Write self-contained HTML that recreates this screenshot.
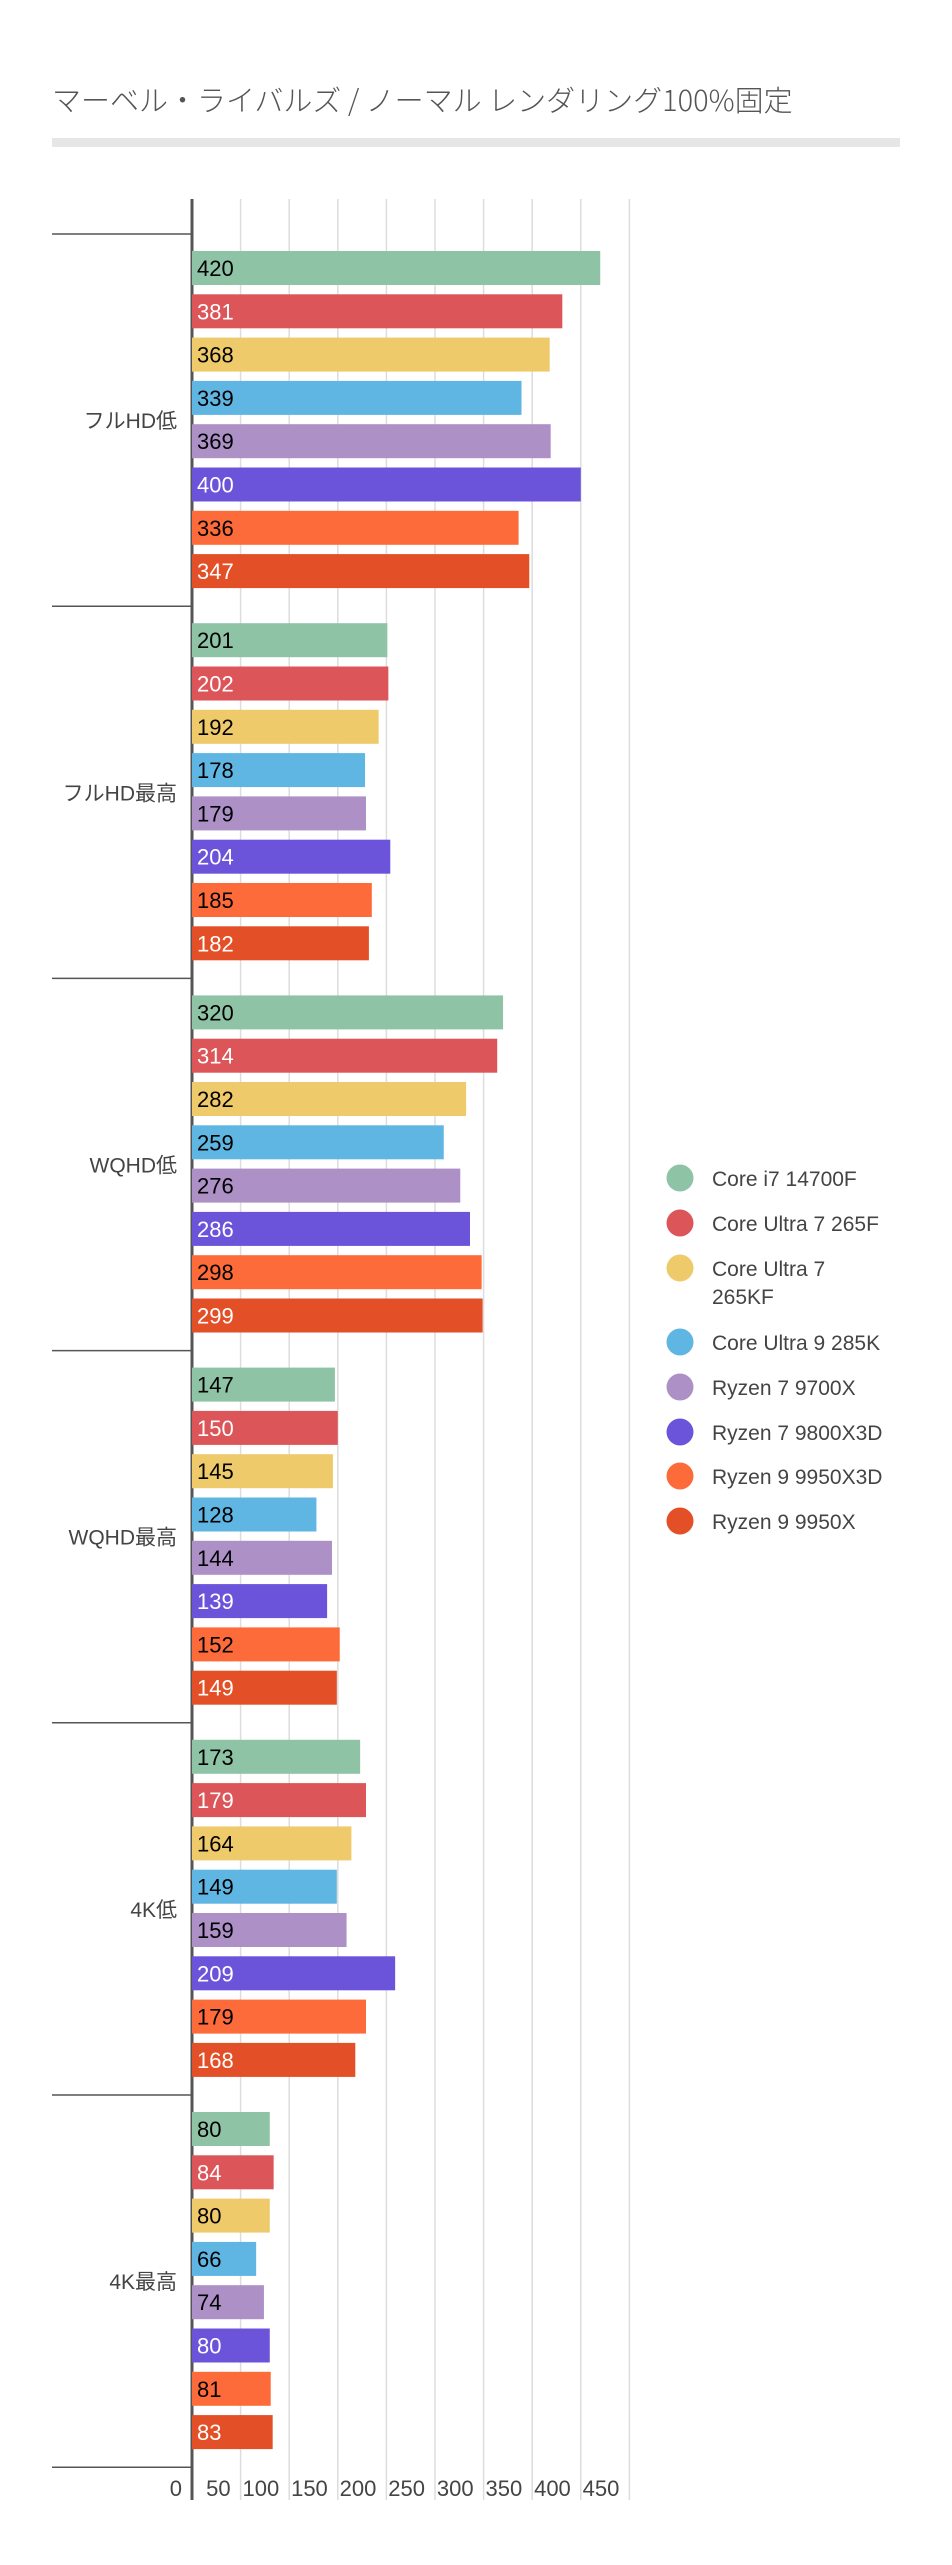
<!DOCTYPE html>
<html><head><meta charset="utf-8">
<style>
body{margin:0;background:#fff;width:952px;height:2560px;overflow:hidden;font-family:"Liberation Sans","Noto Sans CJK JP",sans-serif;}
</style></head>
<body>
<svg id="chart" width="952" height="2560" xmlns="http://www.w3.org/2000/svg" style="font-family:'Liberation Sans','Noto Sans CJK JP',sans-serif">
<text x="52" y="111" font-size="29" fill="#555" font-family="'Noto Sans CJK JP',sans-serif" font-weight="300">マーベル・ライバルズ / ノーマル レンダリング100%固定</text>
<rect x="52" y="138" width="848" height="9" fill="#e6e6e6"/>
<g id="grid"></g><g id="bars"></g><g id="legend"></g>
</svg>
<script>
const categories=["フルHD低","フルHD最高","WQHD低","WQHD最高","4K低","4K最高"];
const seriesNames=["Core i7 14700F","Core Ultra 7 265F","Core Ultra 7 265KF","Core Ultra 9 285K","Ryzen 7 9700X","Ryzen 7 9800X3D","Ryzen 9 9950X3D","Ryzen 9 9950X"];
const s0=[420,201,320,147,173,80];
const s1=[381,202,314,150,179,84];
const s2=[368,192,282,145,164,80];
const s3=[339,178,259,128,149,66];
const s4=[369,179,276,144,159,74];
const s5=[400,204,286,139,209,80];
const s6=[336,185,298,152,179,81];
const s7=[347,182,299,149,168,83];
const ticks=[0,50,100,150,200,250,300,350,400,450];
const series=[s0,s1,s2,s3,s4,s5,s6,s7];
const colors=["#8FC3A6","#DC5558","#EFCA6A","#5FB6E3","#AC90C6","#6C54DA","#FE6B3A","#E34F26"];
const textCol=["#000","#fff","#000","#000","#000","#fff","#000","#fff"];
const NS="http://www.w3.org/2000/svg";
const x0=192, pxPer=48.6/50, yTop=199, yBottom=2500, g0=234, gH=372.2;
const X=v=>x0+v*pxPer;
function mk(tag,attrs,parent){const e=document.createElementNS(NS,tag);for(const k in attrs)e.setAttribute(k,attrs[k]);parent.appendChild(e);return e;}
const grid=document.getElementById('grid'),bars=document.getElementById('bars'),leg=document.getElementById('legend');
ticks.forEach((t,i)=>{
  if(i>0){const l=mk('line',{x1:X(t),x2:X(t),y1:yTop,y2:yBottom,stroke:'#ddd','stroke-width':1.5},grid);
  
  }
  const tx=mk('text',{x:X(t)-10,y:2496,'text-anchor':'end','font-size':22,fill:'#444'},grid);
  tx.textContent=t;
  
  
});
for(let g=0;g<=categories.length;g++){
  const l=mk('line',{x1:52,x2:x0,y1:g0+g*gH,y2:g0+g*gH,stroke:'#555','stroke-width':1.5},grid);
  
  
}
categories.forEach((c,g)=>{
  const t=mk('text',{x:177,y:g0+g*gH+gH/2+8,'text-anchor':'end','font-size':21,fill:'#444'},bars);
  t.textContent=c;
  
  
  series.forEach((s,i)=>{
    const y=g0+g*gH+17+i*43.3;
    const r=mk('rect',{x:x0,y:y,width:X(s[g])-x0,height:34,fill:colors[i]},bars);
    
    
    const v=mk('text',{x:x0+5,y:y+25,'font-size':22,fill:textCol[i]},bars);
    v.textContent=s[g];
    
    
  });
});
const ax=mk('line',{x1:x0,x2:x0,y1:yTop,y2:yBottom,stroke:'#555','stroke-width':3},grid);


const ly=[1178,1223,1268,1342,1387,1432,1476,1521];
seriesNames.forEach((n,i)=>{
  const c=mk('circle',{cx:680,cy:ly[i],r:13.5,fill:colors[i]},leg);
  
  
  const t=mk('text',{x:712,y:ly[i]+8,'font-size':21,fill:'#444'},leg);
  
  
  if(n==="Core Ultra 7 265KF"){
    const a=mk('tspan',{x:712},t);a.textContent="Core Ultra 7";
    const b=mk('tspan',{x:712,dy:28},t);b.textContent="265KF";
  } else t.textContent=n;
});
</script>
</body></html>
